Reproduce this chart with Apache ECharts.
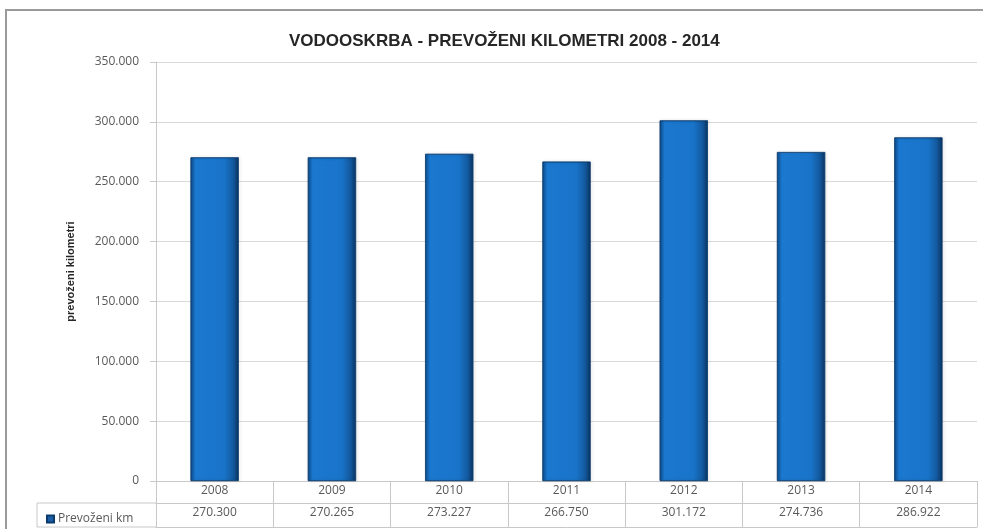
<!DOCTYPE html>
<html>
<head>
<meta charset="utf-8">
<script src="https://cdn.jsdelivr.net/npm/echarts@6/dist/echarts.min.js"></script>
<style>
  html, body { margin: 0; padding: 0; background: #fff; }
  #chart { width: 983px; height: 529px; }
</style>
</head>
<body>
<div id="chart"></div>
<script>
// values
const years = ["2008", "2009", "2010", "2011", "2012", "2013", "2014"];
const km = [270300, 270265, 273227, 266750, 301172, 274736, 286922];
const yTicks = { min: 0, max: 350000, interval: 50000 };
const seriesName = "Prevoženi km";

const fmt = v => String(v).replace(/\B(?=(\d{3})+(?!\d))/g, ".");

const textGray = "#595959";
const lineGray = "#c8c8c8";
const labelFont = "'Open Sans', 'DejaVu Sans', sans-serif";

const myChart = echarts.init(document.getElementById("chart"));

const barFill = new echarts.graphic.LinearGradient(0, 0, 1, 0, [
    { offset: 0, color: "#0d4f91" },
    { offset: 0.1, color: "#1b78cf" },
    { offset: 0.7, color: "#1974c9" },
    { offset: 0.88, color: "#135aa0" },
    { offset: 1, color: "#0a3563" }
]);

const options = {
    backgroundColor: "#fff",
    textStyle: { fontFamily: labelFont },
    title: {
        text: "VODOOSKRBA - PREVOŽENI KILOMETRI 2008 - 2014",
        left: 284,
        top: 28,
        textStyle: {
            fontSize: 17,
            fontWeight: "bold",
            color: "#262626",
            fontFamily: "'Liberation Sans Narrow', 'Liberation Sans', sans-serif"
        }
    },
    legend: {
        left: 41,
        top: 508,
        itemWidth: 7,
        itemHeight: 7,
        itemGap: 4,
        icon: "rect",
        itemStyle: { color: "#1b5ea6" },
        textStyle: { color: textGray, fontSize: 12, fontFamily: labelFont, padding: [0, 0, 0, -1] },
        data: [seriesName]
    },
    grid: {
        left: 156,
        right: 6,
        top: 62,
        bottom: 48
    },
    xAxis: [
        {
            type: "category",
            data: years,
            axisLine: { show: true, lineStyle: { color: lineGray } },
            axisTick: { show: true, length: 46, lineStyle: { color: lineGray } },
            axisLabel: { color: textGray, fontSize: 12, margin: 4, fontFamily: labelFont }
        },
        {
            type: "category",
            data: km.map(fmt),
            position: "bottom",
            offset: 22,
            axisLine: { show: true, lineStyle: { color: lineGray } },
            axisTick: { show: false },
            axisLabel: { color: textGray, fontSize: 12, margin: 4, fontFamily: labelFont }
        },
        {
            type: "category",
            data: years,
            position: "bottom",
            offset: 46,
            axisLine: { show: true, lineStyle: { color: lineGray } },
            axisTick: { show: false },
            axisLabel: { show: false }
        }
    ],
    yAxis: {
        type: "value",
        min: yTicks.min,
        max: yTicks.max,
        interval: yTicks.interval,
        name: "prevoženi kilometri",
        nameLocation: "middle",
        nameGap: 80,
        nameTextStyle: { color: "#262626", fontSize: 11, fontWeight: "bold", fontFamily: "'Liberation Sans Narrow', 'Liberation Sans', sans-serif" },
        axisLine: { show: true, lineStyle: { color: lineGray } },
        axisTick: { show: true, length: 6, lineStyle: { color: lineGray } },
        axisLabel: {
            color: textGray,
            fontSize: 12,
            margin: 17,
            fontFamily: labelFont,
            formatter: v => fmt(v)
        },
        splitLine: { lineStyle: { color: "#d9d9d9" } }
    },
    series: [
        {
            name: seriesName,
            type: "bar",
            data: km,
            barWidth: "41%",
            itemStyle: {
                color: barFill,
                borderColor: "#0b3a6c",
                borderWidth: 0.6,
                shadowColor: "rgba(0,0,0,0.25)",
                shadowBlur: 3,
                shadowOffsetX: 1
            }
        }
    ],
    graphic: [
        // outer chart frame
        {
            type: "rect",
            shape: { x: 6, y: 10, width: 1000, height: 540 },
            style: { fill: "none", stroke: "#9a9a9a", lineWidth: 2 },
            silent: true
        },
        // legend cell of the data table
        { type: "line", shape: { x1: 37, y1: 503, x2: 156, y2: 503 }, style: { stroke: lineGray, lineWidth: 1 } },
        { type: "line", shape: { x1: 37, y1: 527, x2: 156, y2: 527 }, style: { stroke: lineGray, lineWidth: 1 } },
        { type: "line", shape: { x1: 37, y1: 503, x2: 37, y2: 527 }, style: { stroke: lineGray, lineWidth: 1 } }
    ]
};

myChart.setOption(options);
</script>
</body>
</html>
